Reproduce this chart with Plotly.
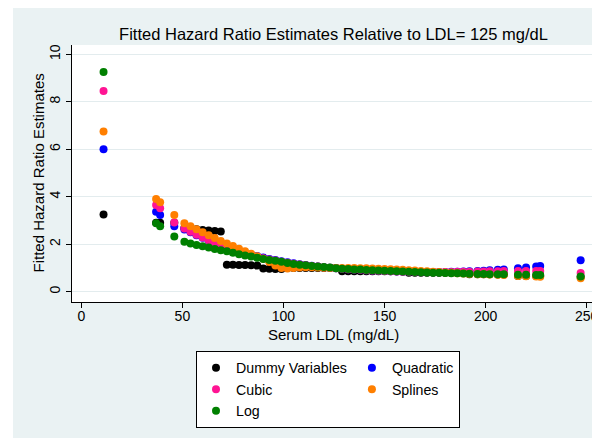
import plotly.graph_objects as go

# Serum LDL values (mg/dL) at which fitted hazard ratios are shown
ldl = [11, 37, 39, 46,
       51, 54, 57, 60, 63, 66, 69, 72, 75, 78, 81, 84, 87, 90, 93, 96, 99,
       102, 105, 108, 111, 114, 117, 120, 123, 126, 129, 132, 135, 138, 141,
       144, 147, 150, 153, 156, 159, 162, 165, 168, 171, 174, 177, 180, 183,
       186, 189, 192,
       196, 199, 202, 206, 209, 216, 220, 225, 227, 247]

dummy = [3.25, 2.9, 2.9, 2.9,
         2.68, 2.66, 2.63, 2.6, 2.58, 2.56, 2.54, 1.14, 1.13, 1.12, 1.12, 1.11, 1.1, 0.98, 0.97, 0.96, 0.96,
         1.0, 1.0, 1.0, 1.0, 1.0, 1.0, 1.0, 1.0, 1.0, 0.86, 0.86, 0.86, 0.86, 0.86,
         0.86, 0.86, 0.86, 0.86, 0.86, 0.86, 0.8, 0.8, 0.8, 0.8, 0.8, 0.8, 0.8, 0.8,
         0.8, 0.8, 0.74,
         0.74, 0.74, 0.73, 0.72, 0.72, 0.66, 0.66, 0.66, 0.66, 0.62]

quadratic = [6.0, 3.37, 3.23, 2.76,
             2.62, 2.5, 2.38, 2.27, 2.16, 2.06, 1.96, 1.87, 1.79, 1.71, 1.63, 1.56, 1.5, 1.44, 1.38, 1.33, 1.28,
             1.24, 1.2, 1.16, 1.12, 1.09, 1.06, 1.03, 1.01, 0.99, 0.97, 0.95, 0.93, 0.92, 0.9,
             0.89, 0.88, 0.87, 0.86, 0.85, 0.84, 0.84, 0.83, 0.83, 0.83, 0.83, 0.83, 0.83, 0.84,
             0.84, 0.85, 0.86,
             0.87, 0.88, 0.9, 0.92, 0.94, 0.99, 1.02, 1.06, 1.08, 1.32]

cubic = [8.45, 3.65, 3.51, 2.92,
         2.66, 2.53, 2.4, 2.28, 2.17, 2.06, 1.96, 1.86, 1.77, 1.69, 1.61, 1.54, 1.47, 1.41, 1.36, 1.31, 1.26,
         1.22, 1.18, 1.15, 1.11, 1.08, 1.06, 1.03, 1.01, 0.99, 0.97, 0.95, 0.93, 0.92, 0.9,
         0.89, 0.88, 0.87, 0.86, 0.85, 0.84, 0.84, 0.83, 0.83, 0.83, 0.83, 0.83, 0.83, 0.83,
         0.84, 0.84, 0.84,
         0.85, 0.85, 0.86, 0.86, 0.87, 0.87, 0.87, 0.87, 0.87, 0.79]

splines = [6.75, 3.9, 3.77, 3.23,
           2.88, 2.76, 2.63, 2.5, 2.38, 2.26, 2.14, 2.03, 1.92, 1.81, 1.7, 1.6, 1.49, 1.39, 1.25, 1.1, 1.0,
           0.98, 1.0, 1.02, 1.03, 1.03, 1.02, 1.01, 1.0, 1.0, 1.0, 1.0, 1.0, 0.99, 0.99,
           0.98, 0.97, 0.96, 0.95, 0.93, 0.92, 0.9, 0.89, 0.87, 0.86, 0.84, 0.83, 0.81, 0.8,
           0.78, 0.77, 0.75,
           0.74, 0.73, 0.72, 0.71, 0.7, 0.66, 0.65, 0.64, 0.63, 0.57]

log_model = [9.25, 2.88, 2.76, 2.32,
             2.1, 2.03, 1.97, 1.91, 1.86, 1.8, 1.75, 1.7, 1.64, 1.58, 1.53, 1.48, 1.43, 1.38, 1.34, 1.3, 1.26,
             1.21, 1.17, 1.14, 1.11, 1.08, 1.06, 1.04, 1.02, 0.99, 0.97, 0.96, 0.94, 0.93, 0.91,
             0.9, 0.89, 0.88, 0.87, 0.86, 0.85, 0.84, 0.83, 0.82, 0.81, 0.8, 0.8, 0.79, 0.78,
             0.78, 0.77, 0.76,
             0.75, 0.75, 0.74, 0.73, 0.73, 0.71, 0.71, 0.7, 0.7, 0.64]

series_names = ["Dummy Variables", "Quadratic", "Cubic", "Splines", "Log"]
series_values = [dummy, quadratic, cubic, splines, log_model]
series_colors = ["#000000", "#0000FF", "#FF1493", "#FF7F00", "#008000"]
series_groups = ["c1", "c2", "c1", "c2", "c1"]

x_ticks = [0, 50, 100, 150, 200, 250]
y_ticks = [0, 2, 4, 6, 8, 10]

FONT = "Liberation Sans, Arial, Helvetica, sans-serif"
BG = "#EAF2F3"

fig = go.Figure()
for name, vals, col, grp in zip(series_names, series_values, series_colors, series_groups):
    fig.add_trace(go.Scatter(
        x=ldl, y=vals, mode="markers", name=name, legendgroup=grp,
        marker=dict(color=col, size=8, line=dict(width=0)),
    ))

# the page body adds an 8px margin, so the figure is 8px smaller than the window
W, H = 592, 430
ml, mr, mt, mb = 64, 5, 37, 136
pw, ph = W - ml - mr, H - mt - mb

def px2x(px):
    return (px - ml) / pw

def py2y(py):
    return (H - mb - py) / ph

fig.update_layout(
    width=W, height=H,
    margin=dict(l=ml, r=mr, t=mt, b=mb, pad=0),
    paper_bgcolor=BG,
    plot_bgcolor="white",
    font=dict(family=FONT, color="black", size=14),
    title=dict(text="Fitted Hazard Ratio Estimates Relative to LDL= 125 mg/dL",
               x=0.5, xref="paper", xanchor="center",
               y=1 - 26 / H, yref="container", yanchor="middle",
               font=dict(size=16.5, family=FONT, color="black")),
    showlegend=True,
    legend=dict(orientation="h", traceorder="grouped", itemwidth=30,
                x=px2x(188), xanchor="left", y=py2y(343), yanchor="top",
                bgcolor="white", bordercolor="black", borderwidth=1,
                font=dict(size=14.2, family=FONT, color="black"),
                tracegroupgap=0),
    shapes=[
        dict(type="rect", xref="paper", yref="paper", layer="above",
             x0=px2x(0), x1=px2x(5), y0=py2y(H), y1=py2y(0),
             fillcolor="white", line=dict(width=0)),
    ],
    annotations=[
        dict(text="Serum LDL (mg/dL)", xref="paper", yref="paper",
             x=0.5, y=py2y(326), xanchor="center", yanchor="middle",
             showarrow=False, font=dict(size=15, family=FONT, color="black")),
        dict(text="Fitted Hazard Ratio Estimates", xref="paper", yref="paper",
             x=px2x(30), y=0.5, xanchor="center", yanchor="middle", textangle=-90,
             showarrow=False, font=dict(size=15, family=FONT, color="black")),
    ],
)

fig.update_xaxes(
    range=[-4.6, 254.1], tickvals=x_ticks, ticktext=[str(v) for v in x_ticks],
    showgrid=False, zeroline=False, automargin=False,
    showline=True, linecolor="black", linewidth=1,
    ticks="outside", ticklen=5, tickcolor="black", tickwidth=1,
    ticklabelstandoff=-4,
    tickfont=dict(size=14, family=FONT, color="black"),
)
fig.update_yaxes(
    range=[-0.434, 10.392], tickvals=y_ticks, ticktext=[str(v) for v in y_ticks],
    showgrid=True, gridcolor="#E3ECEE", gridwidth=1.2, zeroline=False, automargin=False,
    showline=True, linecolor="black", linewidth=1,
    ticks="outside", ticklen=5, tickcolor="black", tickwidth=1, tickangle=-90,
    tickfont=dict(size=14, family=FONT, color="black"),
)

fig.write_html("out.html")
